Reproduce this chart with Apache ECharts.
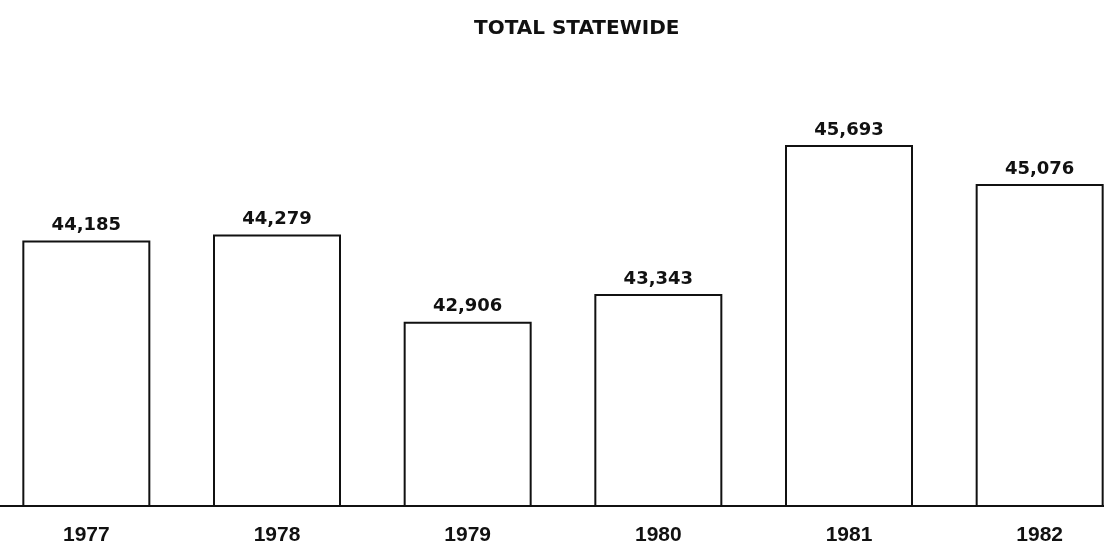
<!DOCTYPE html>
<html>
<head>
<meta charset="utf-8">
<script src="https://cdn.jsdelivr.net/npm/echarts@6/dist/echarts.min.js"></script>
<style>
  html, body { margin: 0; padding: 0; background: #fff; overflow: hidden; }
  /* the scan is cropped: first category starts left of the page, last bar runs off the right */
  #chart { position: absolute; left: -9px; top: 0; width: 1144px; height: 551px; }
</style>
</head>
<body>
<div id="chart"></div>
<script>
// data
const years = ['1977', '1978', '1979', '1980', '1981', '1982']
const totals = [44185, 44279, 42906, 43343, 45693, 45076]
const chartTitle = 'TOTAL STATEWIDE'

const fmt = v => v.toLocaleString('en-US')

let myChart = echarts.init(document.getElementById('chart'))
myChart.setOption({
    backgroundColor: '#fff',
    animation: false,
    title: {
        text: chartTitle,
        left: 478,
        top: 14,
        textStyle: {
            fontFamily: 'DejaVu Sans',
            fontSize: 20,
            fontWeight: 'bold',
            color: '#111'
        }
    },
    grid: {
        left: 0,
        right: 0,
        top: 62,
        bottom: 45
    },
    xAxis: {
        type: 'category',
        data: years,
        axisLine: {
            lineStyle: { color: '#111', width: 2 }
        },
        axisTick: { show: false },
        axisLabel: {
            margin: 19,
            fontFamily: 'Liberation Sans',
            fontWeight: 'bold',
            fontSize: 21,
            color: '#111'
        }
    },
    yAxis: {
        type: 'value',
        min: 40000,
        max: 47000,
        show: false,
        splitLine: { show: false }
    },
    series: [{
        type: 'bar',
        data: totals,
        barWidth: 128,
        itemStyle: {
            color: '#fff',
            borderColor: '#111',
            borderWidth: 2
        },
        label: {
            show: true,
            position: 'top',
            distance: 6,
            formatter: p => fmt(p.value),
            fontFamily: 'DejaVu Sans',
            fontWeight: 'bold',
            fontSize: 18,
            color: '#111'
        }
    }]
})
</script>
</body>
</html>
